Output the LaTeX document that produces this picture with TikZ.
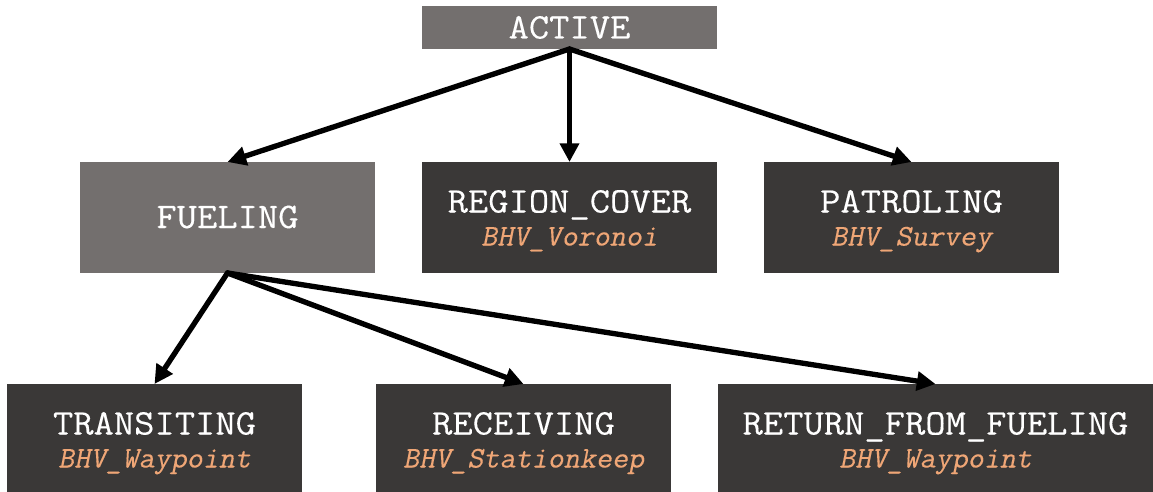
\documentclass[tikz,border=0pt]{standalone}
\usepackage{fontspec}
\newfontfamily\statefont[FakeStretch=1.095,FakeBold=0.3]{Latin Modern Mono}
\newfontfamily\behfont[FakeStretch=1.04,FakeBold=0.3,FakeSlant=0.2]{Latin Modern Mono}
\usetikzlibrary{arrows.meta,calc}
\definecolor{lightbox}{HTML}{736F6E}
\definecolor{darkbox}{HTML}{3A3837}
\definecolor{behav}{HTML}{EFA676}
\begin{document}
\begin{tikzpicture}[x=0.75pt,y=-0.75pt,
  box/.style={rectangle, inner sep=0pt, outer sep=0pt, anchor=north west},
  lightstate/.style={box, fill=lightbox},
  darkstate/.style={box, fill=darkbox},
  statename/.style={anchor=base, inner sep=0pt, text=white, font=\statefont\fontsize{27}{31}\selectfont},
  behname/.style={anchor=base, inner sep=0pt, text=behav, font=\behfont\fontsize{22.5}{26}\selectfont},
  trans/.style={line width=4pt, -{Triangle[length=14pt,width=14pt]}, shorten <=-1pt}
]
\useasboundingbox (0,0) rectangle (1153,492);
\fill[white] (0,0) rectangle (1153,492);

% boxes
\node[lightstate, minimum width=221.25pt, minimum height=32.25pt] (active) at (422,6) {};
\node[lightstate, minimum width=221.25pt, minimum height=83.25pt] (fuel) at (80,162) {};
\node[darkstate, minimum width=221.25pt, minimum height=83.25pt] (region) at (422,162) {};
\node[darkstate, minimum width=221.25pt, minimum height=83.25pt] (patrol) at (764,162) {};
\node[darkstate, minimum width=221.25pt, minimum height=81pt] (transit) at (7,384) {};
\node[darkstate, minimum width=221.25pt, minimum height=81pt] (receive) at (376,384) {};
\node[darkstate, minimum width=326.25pt, minimum height=81pt] (return) at (718,384) {};

% labels
\node[statename] (activet) at ($(active.north)+(0,32.5)$) {ACTIVE};
\node[statename] (fuelt) at ($(fuel.north)+(0,66)$) {FUELING};
\node[statename] (regiont) at ($(region.north)+(0,50.5)$) {REGION\_COVER};
\node[behname] (regionb) at ($(region.north)+(0,83.5)$) {BHV\_Voronoi};
\node[statename] (patrolt) at ($(patrol.north)+(0,50.5)$) {PATROLING};
\node[behname] (patrolb) at ($(patrol.north)+(0,83.5)$) {BHV\_Survey};
\node[statename] (transitt) at ($(transit.north)+(0,50.5)$) {TRANSITING};
\node[behname] (transitb) at ($(transit.north)+(0,83.5)$) {BHV\_Waypoint};
\node[statename] (receivet) at ($(receive.north)+(0,50.5)$) {RECEIVING};
\node[behname] (receiveb) at ($(receive.north)+(0,83.5)$) {BHV\_Stationkeep};
\node[statename] (returnt) at ($(return.north)+(0,50.5)$) {RETURN\_FROM\_FUELING};
\node[behname] (returnb) at ($(return.north)+(0,83.5)$) {BHV\_Waypoint};

% transitions
\draw[trans] (active.south) -- (fuel.north);
\draw[trans] (active.south) -- (region.north);
\draw[trans] (active.south) -- (patrol.north);
\draw[trans] (fuel.south) -- (transit.north);
\draw[trans] (fuel.south) -- (receive.north);
\draw[trans] (fuel.south) -- (return.north);
\end{tikzpicture}
\end{document}
